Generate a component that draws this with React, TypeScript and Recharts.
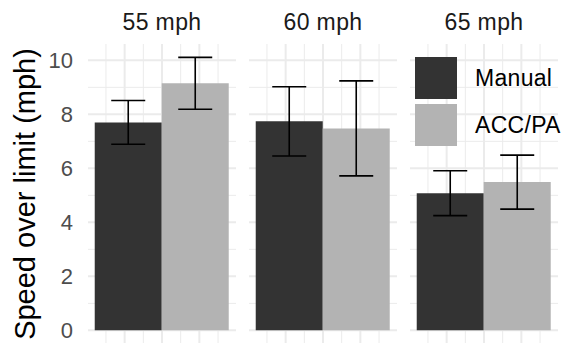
import React from "react";
import {
  BarChart,
  Bar,
  XAxis,
  YAxis,
  CartesianGrid,
  ErrorBar,
} from "recharts";

// ─── Data ────────────────────────────────────────────────
const panels = ["55 mph", "60 mph", "65 mph"];
const seriesNames = ["Manual", "ACC/PA"];
const manualMeans = [7.7, 7.74, 5.08];
const manualErr = [0.81, 1.28, 0.83];
const accMeans = [9.15, 7.48, 5.49];
const accErr = [0.96, 1.76, 1.0];
const yTicks = [0, 2, 4, 6, 8, 10];
const yMinorTicks = [1, 3, 5, 7, 9];
const xMajorTicks = [0.75, 1, 1.25];
const xMinorTicks = [0.625, 0.875, 1.125, 1.375];

const FONT = '"Liberation Sans", Arial, sans-serif';
const COLORS = ["#333333", "#b3b3b3"];
const GRID = "#ebebeb";
const Y_DOMAIN: [number, number] = [-0.505, 10.605];
const X_DOMAIN: [number, number] = [0.505, 1.495];

// panel left edges / widths (px)
const PANEL_LEFT = [88, 249, 410];
const PANEL_W = 148;
const Y_AXIS_W = 88;

// axes that only feed the grid: ticks exist, but draw nothing
const quiet = {
  axisLine: false,
  tickLine: false,
  tickFormatter: () => "",
  allowDataOverflow: true,
} as const;

// vertical grid positions inside a panel (x runs over X_DOMAIN)
const gridX = (ticks: number[], plotLeft: number) =>
  ticks.map((t) => plotLeft + ((t - X_DOMAIN[0]) / (X_DOMAIN[1] - X_DOMAIN[0])) * PANEL_W);

// ─── Legend (inside the last panel) ──────────────────────
function LegendBox() {
  return (
    <div style={{ position: "absolute", top: 57, left: 415, fontFamily: FONT }}>
      {seriesNames.map((n, i) => (
        <div key={n} style={{ display: "flex", alignItems: "center", height: 42, marginBottom: 5 }}>
          <div style={{ width: 42, height: 42, background: COLORS[i] }} />
          <span style={{ marginLeft: 18, fontSize: 23, color: "#000", letterSpacing: 0.3 }}>{n}</span>
        </div>
      ))}
    </div>
  );
}

// ─── One facet panel ─────────────────────────────────────
function Panel({ idx }: { idx: number }) {
  const data = [
    {
      panel: panels[idx],
      manual: manualMeans[idx],
      manualErr: manualErr[idx],
      acc: accMeans[idx],
      accErr: accErr[idx],
    },
  ];
  const first = idx === 0;
  const plotLeft = first ? Y_AXIS_W : 0;
  return (
    <BarChart
      width={plotLeft + PANEL_W}
      height={346}
      data={data}
      margin={{ top: 44, right: 0, bottom: 2, left: 0 }}
      barCategoryGap="4.55%"
      barGap={0}
    >
      <XAxis xAxisId="cat" dataKey="panel" hide height={0} />
      <YAxis yAxisId="minor" orientation="right" type="number" domain={Y_DOMAIN} ticks={yMinorTicks} width={0} {...quiet} />
      {first ? (
        <YAxis
          yAxisId="val"
          type="number"
          domain={Y_DOMAIN}
          ticks={yTicks}
          allowDataOverflow
          width={Y_AXIS_W}
          axisLine={false}
          tickLine={false}
          tickSize={0}
          tickMargin={15}
          tick={{ fontSize: 22, fill: "#4d4d4d", fontFamily: FONT }}
        />
      ) : (
        <YAxis yAxisId="val" type="number" domain={Y_DOMAIN} ticks={yTicks} width={0} {...quiet} />
      )}
      <CartesianGrid
        xAxisId="cat"
        yAxisId="minor"
        stroke={GRID}
        strokeWidth={1}
        syncWithTicks
        verticalPoints={gridX(xMinorTicks, plotLeft)}
      />
      <CartesianGrid
        xAxisId="cat"
        yAxisId="val"
        stroke={GRID}
        strokeWidth={2}
        syncWithTicks
        verticalPoints={gridX(xMajorTicks, plotLeft)}
      />
      <Bar xAxisId="cat" yAxisId="val" dataKey="manual" name={seriesNames[0]} fill={COLORS[0]} isAnimationActive={false}>
        <ErrorBar dataKey="manualErr" width={17} stroke="#000" strokeWidth={1.6} direction="y" />
      </Bar>
      <Bar xAxisId="cat" yAxisId="val" dataKey="acc" name={seriesNames[1]} fill={COLORS[1]} isAnimationActive={false}>
        <ErrorBar dataKey="accErr" width={17} stroke="#000" strokeWidth={1.6} direction="y" />
      </Bar>
    </BarChart>
  );
}

export default function App() {
  return (
    <div
      style={{
        position: "absolute",
        top: 0,
        left: 0,
        width: 563,
        height: 343,
        overflow: "hidden",
        background: "#fff",
        fontFamily: FONT,
      }}
    >
      {/* strip titles */}
      {panels.map((p, i) => (
        <div
          key={p}
          style={{
            position: "absolute",
            top: 8,
            left: PANEL_LEFT[i],
            width: PANEL_W,
            textAlign: "center",
            fontSize: 23,
            color: "#1a1a1a",
            lineHeight: "28px",
            letterSpacing: 0.4,
          }}
        >
          {p}
        </div>
      ))}

      {/* y axis title */}
      <svg style={{ position: "absolute", top: 0, left: 0 }} width={60} height={343}>
        <text
          x={35}
          y={194}
          transform="rotate(-90, 35, 194)"
          textAnchor="middle"
          fontSize={29}
          fontFamily={FONT}
          fill="#000"
        >
          Speed over limit (mph)
        </text>
      </svg>

      {panels.map((p, i) => (
        <div
          key={p}
          style={{
            position: "absolute",
            top: 0,
            left: i === 0 ? PANEL_LEFT[0] - Y_AXIS_W : PANEL_LEFT[i],
          }}
        >
          <Panel idx={i} />
        </div>
      ))}

      <LegendBox />
    </div>
  );
}
